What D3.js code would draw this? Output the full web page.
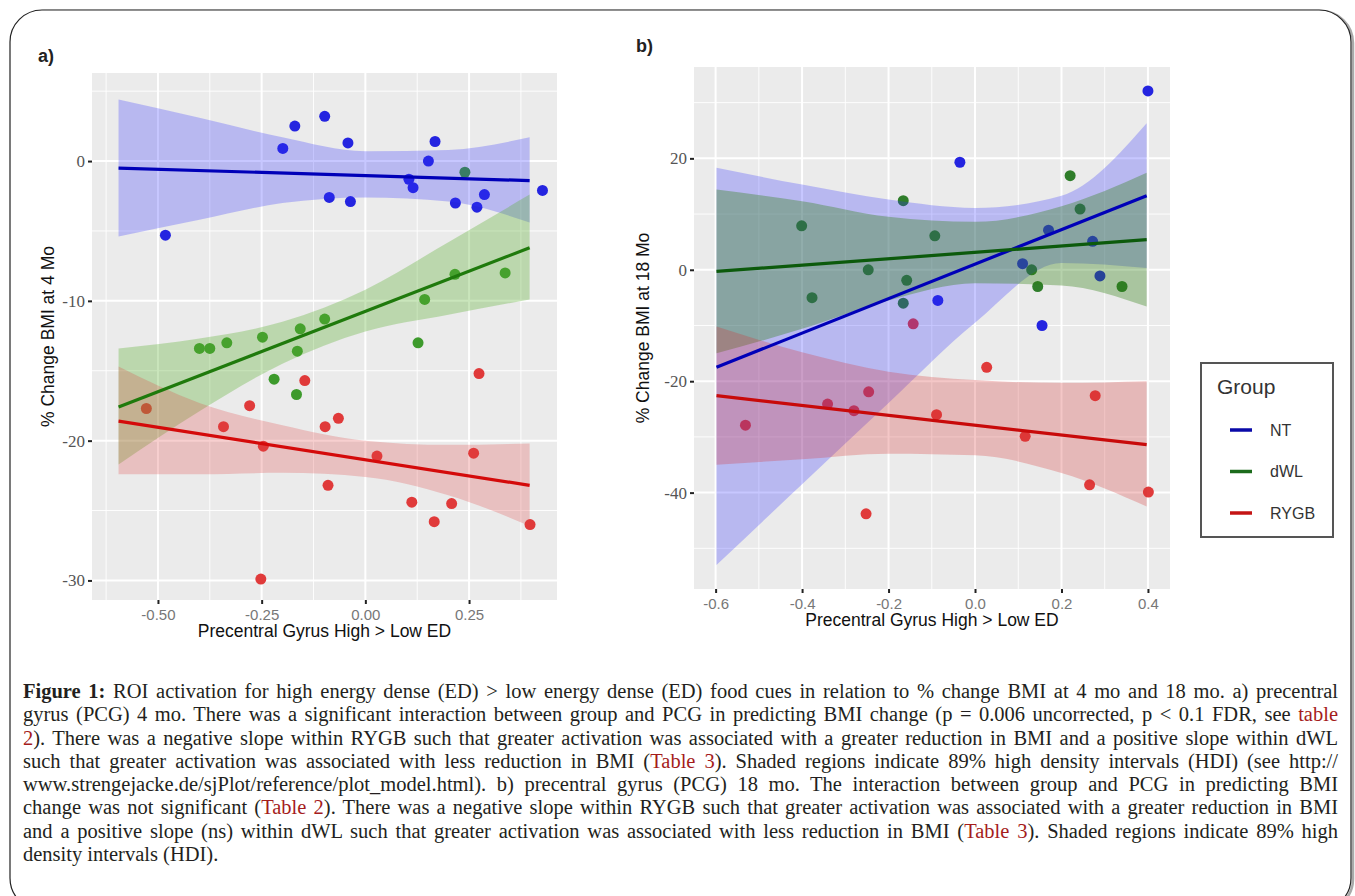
<!DOCTYPE html>
<html>
<head>
<meta charset="utf-8">
<script src="https://cdn.jsdelivr.net/npm/d3@7"></script>
<style>
  body { margin: 0; background: #fff; }
  #fig { position: relative; width: 1355px; height: 896px; overflow: hidden; }
  #fig svg { position: absolute; left: 0; top: 0; }
  .caption { position: absolute; left: 23px; width: 1315px; font-family: "Liberation Serif", serif;
    font-size: 20.5px; line-height: 23.3px; color: #231f20; }
  .caption div { white-space: nowrap; text-align: justify; text-align-last: justify; }
  .caption div.last { text-align-last: left; }
  .caption .link { color: #a51c1c; }
</style>
</head>
<body>
<div id="fig"></div>
<script>
// ---------- data ----------
const groups = ['NT', 'dWL', 'RYGB'];

// panel a: % change BMI at 4 mo
const ntPointsA = [[-0.482, -5.3], [-0.199, 0.9], [-0.170, 2.5], [-0.098, 3.2], [-0.042, 1.3],
  [-0.087, -2.6], [-0.036, -2.9], [0.105, -1.3], [0.115, -1.9], [0.152, 0.0], [0.168, 1.4],
  [0.217, -3.0], [0.269, -3.3], [0.287, -2.4], [0.427, -2.1]];
const dwlPointsA = [[-0.400, -13.4], [-0.375, -13.4], [-0.334, -13.0], [-0.248, -12.6], [-0.157, -12.0],
  [-0.098, -11.3], [-0.164, -13.6], [-0.220, -15.6], [-0.166, -16.7], [0.127, -13.0], [0.143, -9.9],
  [0.216, -8.1], [0.337, -8.0], [0.240, -0.8]];
const rygbPointsA = [[-0.528, -17.7], [-0.279, -17.5], [-0.342, -19.0], [-0.246, -20.4], [-0.252, -29.9],
  [-0.146, -15.7], [-0.097, -19.0], [-0.065, -18.4], [-0.090, -23.2], [0.028, -21.1], [0.112, -24.4],
  [0.166, -25.8], [0.208, -24.5], [0.261, -20.9], [0.274, -15.2], [0.397, -26.0]];

const fitXA = [-0.595, 0.396];
const ntFitA = [-0.5, -1.4];
const dwlFitA = [-17.6, -6.2];
const rygbFitA = [-18.6, -23.2];

const bandXA = [-0.595, -0.4, -0.2, 0.0, 0.2, 0.396];
const ntLowA = [-5.4, -4.2, -3.0, -2.6, -2.9, -4.4];
const ntHighA = [4.4, 3.1, 1.7, 0.7, 0.8, 1.7];
const dwlLowA = [-21.7, -17.9, -14.5, -12.2, -11.0, -9.9];
const dwlHighA = [-13.4, -12.7, -11.5, -9.2, -5.8, -2.4];
const rygbLowA = [-22.4, -22.4, -22.3, -22.6, -23.9, -26.1];
const rygbHighA = [-14.7, -17.3, -18.9, -20.0, -20.3, -20.2];

const xTicksA = [-0.5, -0.25, 0, 0.25];
const xTickLabelsA = ['-0.50', '-0.25', '0.00', '0.25'];
const yTicksA = [-30, -20, -10, 0];
const yTickLabelsA = ['-30', '-20', '-10', '0'];

// panel b: % change BMI at 18 mo
const ntPointsB = [[0.400, 32.1], [-0.035, 19.3], [0.170, 7.1], [0.110, 1.1], [0.272, 5.1],
  [0.289, -1.1], [-0.086, -5.5], [0.155, -10.0]];
const dwlPointsB = [[-0.401, 7.9], [-0.377, -5.0], [-0.247, 0.0], [-0.166, 12.4], [-0.158, -1.9],
  [-0.166, -6.0], [-0.093, 6.1], [0.131, 0.0], [0.145, -3.0], [0.220, 16.9], [0.243, 10.9], [0.340, -3.0]];
const rygbPointsB = [[-0.531, -27.9], [-0.341, -24.1], [-0.280, -25.3], [-0.246, -21.9], [-0.252, -43.8],
  [-0.143, -9.7], [-0.089, -26.0], [0.027, -17.5], [0.116, -29.9], [0.265, -38.6], [0.278, -22.6],
  [0.401, -39.9]];

const fitXB = [-0.598, 0.397];
const ntFitB = [-17.5, 13.3];
const dwlFitB = [-0.3, 5.4];
const rygbFitB = [-22.6, -31.4];

const bandXB = [-0.598, -0.4, -0.2, 0.0, 0.2, 0.397];
const ntLowB = [-53.0, -38.5, -23.9, -9.5, 1.2, 0.3];
const ntHighB = [18.3, 15.3, 12.6, 11.1, 13.3, 26.3];
const dwlLowB = [-15.0, -10.6, -5.5, -2.4, -2.8, -6.6];
const dwlHighB = [14.4, 12.3, 9.5, 8.6, 11.4, 17.4];
const rygbLowB = [-35.0, -34.0, -33.0, -33.3, -36.5, -42.5];
const rygbHighB = [-10.2, -14.8, -18.3, -19.8, -20.3, -20.0];

const xTicksB = [-0.6, -0.4, -0.2, 0, 0.2, 0.4];
const xTickLabelsB = ['-0.6', '-0.4', '-0.2', '0.0', '0.2', '0.4'];
const yTicksB = [-40, -20, 0, 20];
const yTickLabelsB = ['-40', '-20', '0', '20'];

// caption lines: [text, style] pieces, style b = bold, l = link
const captionLines = [
  [['Figure 1:', 'b'], [' ROI activation for high energy dense (ED) > low energy dense (ED) food cues in relation to % change BMI at 4 mo and 18 mo. a) precentral']],
  [['gyrus (PCG) 4 mo. There was a significant interaction between group and PCG in predicting BMI change (p = 0.006 uncorrected, p < 0.1 FDR, see '], ['table', 'l']],
  [['2', 'l'], ['). There was a negative slope within RYGB such that greater activation was associated with a greater reduction in BMI and a positive slope within dWL']],
  [['such that greater activation was associated with less reduction in BMI ('], ['Table 3', 'l'], ['). Shaded regions indicate 89% high density intervals (HDI) (see http://']],
  [['www.strengejacke.de/sjPlot/reference/plot_model.html). b) precentral gyrus (PCG) 18 mo. The interaction between group and PCG in predicting BMI']],
  [['change was not significant ('], ['Table 2', 'l'], ['). There was a negative slope within RYGB such that greater activation was associated with a greater reduction in BMI']],
  [['and a positive slope (ns) within dWL such that greater activation was associated with less reduction in BMI ('], ['Table 3', 'l'], ['). Shaded regions indicate 89% high']],
  [['density intervals (HDI).']]
];

// ---------- styles ----------
const W = 1355, H = 896;
const sans = '"Liberation Sans", Arial, sans-serif';
const serif = '"Liberation Serif", serif';
const legendColor = { NT: '#0a0aa8', dWL: '#1c6b1c', RYGB: '#c41414' };

const fig = d3.select('#fig');
const svg = fig.append('svg').attr('width', W).attr('height', H);

// outer frame
svg.append('rect')
    .attr('x', 12).attr('y', 11).attr('width', 1341).attr('height', 900)
    .attr('rx', 32).attr('fill', 'none').attr('stroke', '#aaa').attr('stroke-width', 2.5);
svg.append('rect')
    .attr('x', 10).attr('y', 10).attr('width', 1341).attr('height', 900)
    .attr('rx', 32).attr('fill', '#fff').attr('stroke', '#222').attr('stroke-width', 1.2);

function zip(xs, lo, hi) {
  return xs.map((x, i) => [x, lo[i], hi[i]]);
}

function drawPanel(p) {
  const x = d3.scaleLinear().domain(p.xDomain).range([p.left, p.right]);
  const y = d3.scaleLinear().domain(p.yDomain).range([p.bottom, p.top]);
  const g = svg.append('g');

  g.append('rect')
      .attr('x', p.left).attr('y', p.top)
      .attr('width', p.right - p.left).attr('height', p.bottom - p.top)
      .attr('fill', '#ebebeb');

  // grid
  g.append('g').selectAll('line').data(p.xMinor).join('line')
      .attr('x1', d => x(d)).attr('x2', d => x(d)).attr('y1', p.top).attr('y2', p.bottom)
      .attr('stroke', '#fff').attr('stroke-width', 0.9);
  g.append('g').selectAll('line').data(p.yMinor).join('line')
      .attr('y1', d => y(d)).attr('y2', d => y(d)).attr('x1', p.left).attr('x2', p.right)
      .attr('stroke', '#fff').attr('stroke-width', 0.9);
  g.append('g').selectAll('line').data(p.xTicks).join('line')
      .attr('x1', d => x(d)).attr('x2', d => x(d)).attr('y1', p.top).attr('y2', p.bottom)
      .attr('stroke', '#fff').attr('stroke-width', 2);
  g.append('g').selectAll('line').data(p.yTicks).join('line')
      .attr('y1', d => y(d)).attr('y2', d => y(d)).attr('x1', p.left).attr('x2', p.right)
      .attr('stroke', '#fff').attr('stroke-width', 2);

  // points under the bands
  p.series.forEach(s => {
    g.append('g').selectAll('circle').data(s.points).join('circle')
        .attr('cx', d => x(d[0])).attr('cy', d => y(d[1])).attr('r', 5.5)
        .attr('fill', s.point);
  });

  const area = d3.area()
      .x(d => x(d[0])).y0(d => y(d[1])).y1(d => y(d[2]))
      .curve(d3.curveMonotoneX);
  p.series.forEach(s => {
    g.append('path').datum(zip(s.bandX, s.low, s.high))
        .attr('d', area).attr('fill', s.band).attr('fill-opacity', s.bandOpacity);
  });

  p.series.forEach(s => {
    g.append('line')
        .attr('x1', x(s.fitX[0])).attr('y1', y(s.fit[0]))
        .attr('x2', x(s.fitX[1])).attr('y2', y(s.fit[1]))
        .attr('stroke', s.line).attr('stroke-width', 3.2);
  });

  // axes
  const xAxis = d3.axisBottom(x).tickValues(p.xTicks)
      .tickFormat((d, i) => p.xLabels[i]).tickSize(4).tickPadding(5);
  g.append('g')
      .attr('transform', `translate(0, ${p.bottom})`)
      .call(xAxis)
      .call(a => a.select('.domain').remove())
      .call(a => a.selectAll('line').attr('stroke', '#222').attr('stroke-width', 2))
      .call(a => a.selectAll('text').attr('fill', '#777').attr('font-size', 15).attr('font-family', sans));

  const yAxis = d3.axisLeft(y).tickValues(p.yTicks)
      .tickFormat((d, i) => p.yLabels[i]).tickSize(4).tickPadding(3);
  g.append('g')
      .attr('transform', `translate(${p.left}, 0)`)
      .call(yAxis)
      .call(a => a.select('.domain').remove())
      .call(a => a.selectAll('line').attr('stroke', '#222').attr('stroke-width', 2))
      .call(a => a.selectAll('text').attr('fill', '#555').attr('font-size', 17).attr('font-family', serif));

  g.append('text')
      .attr('x', (p.left + p.right) / 2).attr('y', p.bottom + 37)
      .attr('text-anchor', 'middle')
      .attr('font-family', sans).attr('font-size', 17.5).attr('fill', '#111')
      .text('Precentral Gyrus High > Low ED');

  const cy = (p.top + p.bottom) / 2;
  g.append('text')
      .attr('transform', `translate(${p.yTitleX}, ${cy}) rotate(-90)`)
      .attr('text-anchor', 'middle').attr('dominant-baseline', 'central')
      .attr('font-family', sans).attr('font-size', 17.5).attr('fill', '#111')
      .text(p.yTitle);

  g.append('text')
      .attr('x', p.tagX).attr('y', p.tagY)
      .attr('font-family', sans).attr('font-weight', 'bold').attr('font-size', 18).attr('fill', '#222')
      .text(p.tag);
}

drawPanel({
  tag: 'a)', tagX: 38, tagY: 62,
  left: 92, right: 557, top: 73, bottom: 600,
  xDomain: [-0.659, 0.462], yDomain: [-31.4, 6.3],
  xTicks: xTicksA, xLabels: xTickLabelsA, xMinor: [-0.625, -0.375, -0.125, 0.125, 0.375],
  yTicks: yTicksA, yLabels: yTickLabelsA, yMinor: [-25, -15, -5, 5],
  yTitle: '% Change BMI at 4 Mo', yTitleX: 48,
  series: [
    { points: ntPointsA, fitX: fitXA, fit: ntFitA, bandX: bandXA, low: ntLowA, high: ntHighA,
      point: '#2424e0', line: '#0000b8', band: '#3030ff', bandOpacity: 0.27 },
    { points: dwlPointsA, fitX: fitXA, fit: dwlFitA, bandX: bandXA, low: dwlLowA, high: dwlHighA,
      point: '#3d9a2c', line: '#1f7a0c', band: '#5cb030', bandOpacity: 0.33 },
    { points: rygbPointsA, fitX: fitXA, fit: rygbFitA, bandX: bandXA, low: rygbLowA, high: rygbHighA,
      point: '#e03a3a', line: '#d40a0a', band: '#e04040', bandOpacity: 0.25 }
  ]
});

drawPanel({
  tag: 'b)', tagX: 636, tagY: 52,
  left: 694, right: 1170, top: 67, bottom: 589,
  xDomain: [-0.65, 0.451], yDomain: [-57.3, 36.4],
  xTicks: xTicksB, xLabels: xTickLabelsB, xMinor: [-0.5, -0.3, -0.1, 0.1, 0.3],
  yTicks: yTicksB, yLabels: yTickLabelsB, yMinor: [-50, -30, -10, 10, 30],
  yTitle: '% Change BMI at 18 Mo', yTitleX: 643,
  series: [
    { points: ntPointsB, fitX: fitXB, fit: ntFitB, bandX: bandXB, low: ntLowB, high: ntHighB,
      point: '#2424e0', line: '#0000b8', band: '#3030ff', bandOpacity: 0.27 },
    { points: dwlPointsB, fitX: fitXB, fit: dwlFitB, bandX: bandXB, low: dwlLowB, high: dwlHighB,
      point: '#2f7d2a', line: '#0c5a0c', band: '#2e7d10', bandOpacity: 0.35 },
    { points: rygbPointsB, fitX: fitXB, fit: rygbFitB, bandX: bandXB, low: rygbLowB, high: rygbHighB,
      point: '#e03a3a', line: '#c80a0a', band: '#d83030', bandOpacity: 0.27 }
  ]
});

// legend
const lg = svg.append('g');
lg.append('rect')
    .attr('x', 1201).attr('y', 363).attr('width', 132).attr('height', 174)
    .attr('fill', '#fff').attr('stroke', '#555').attr('stroke-width', 2);
lg.append('text')
    .attr('x', 1217).attr('y', 394)
    .attr('font-family', sans).attr('font-size', 21).attr('fill', '#333')
    .text('Group');
const ly = d3.scalePoint().domain(groups).range([430, 513]);
const item = lg.selectAll('.item').data(groups).join('g')
    .attr('class', 'item')
    .attr('transform', d => `translate(0, ${ly(d)})`);
item.append('line')
    .attr('x1', 1230).attr('x2', 1252)
    .attr('stroke', d => legendColor[d]).attr('stroke-width', 3.5);
item.append('text')
    .attr('x', 1270).attr('dominant-baseline', 'central')
    .attr('font-family', sans).attr('font-size', 16).attr('fill', '#333')
    .text(d => d);

// caption
const cap = fig.append('div').attr('class', 'caption').style('top', '680px');
cap.selectAll('div').data(captionLines).join('div')
    .classed('last', (d, i) => i === captionLines.length - 1)
    .each(function(pieces) {
      const row = d3.select(this);
      pieces.forEach(([t, s]) => {
        row.append('span')
            .classed('link', s === 'l')
            .style('font-weight', s === 'b' ? 'bold' : null)
            .text(t);
      });
    });
</script>
</body>
</html>
